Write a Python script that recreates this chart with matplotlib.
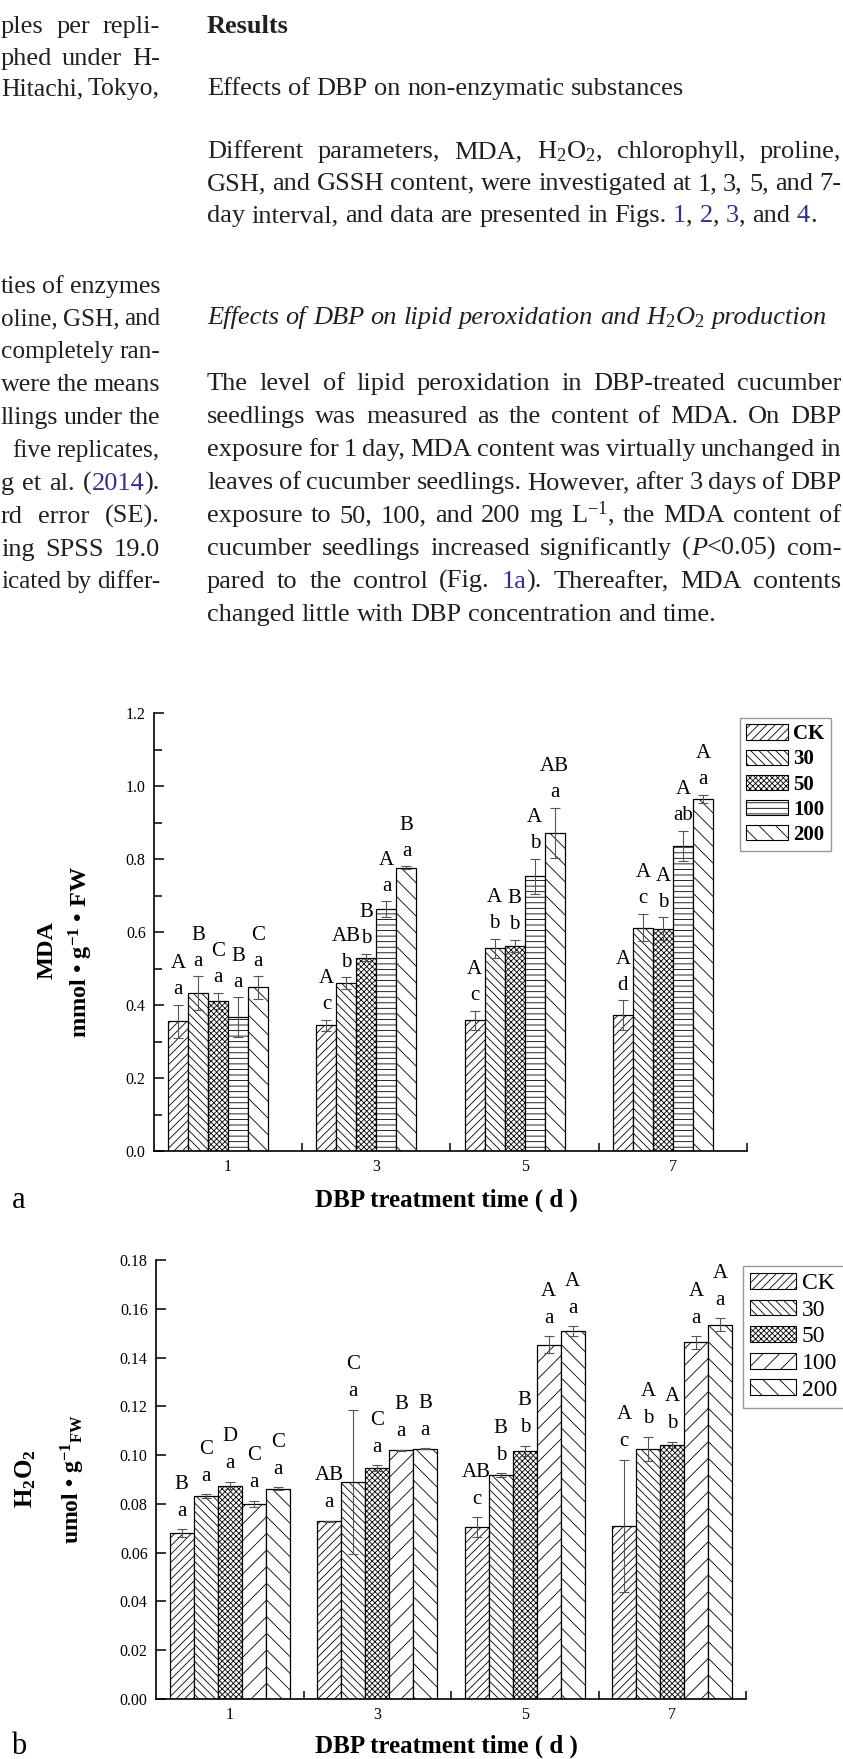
import matplotlib
matplotlib.use("Agg")
import matplotlib.pyplot as plt
from matplotlib.patches import Patch
from matplotlib.ticker import MultipleLocator, FixedLocator

plt.rcParams['font.family'] = ['Liberation Serif', 'DejaVu Serif']
plt.rcParams['mathtext.fontset'] = 'custom'
plt.rcParams['mathtext.rm'] = 'Liberation Serif'
plt.rcParams['mathtext.it'] = 'Liberation Serif:italic'
plt.rcParams['mathtext.bf'] = 'Liberation Serif:bold'
plt.rcParams['hatch.linewidth'] = 0.6

W, H = 843, 1759

# ---- data -------------------------------------------------------------
days = ['1', '3', '5', '7']
treatments = ['CK', '30', '50', '100', '200']

# rows = treatments, columns = days
mda_mean = [[0.355, 0.345, 0.358, 0.372],
            [0.432, 0.460, 0.556, 0.612],
            [0.411, 0.530, 0.562, 0.609],
            [0.366, 0.663, 0.753, 0.836],
            [0.448, 0.776, 0.872, 0.965]]
mda_err = [[0.045, 0.015, 0.026, 0.041],
           [0.047, 0.016, 0.026, 0.038],
           [0.023, 0.010, 0.017, 0.031],
           [0.055, 0.021, 0.048, 0.041],
           [0.031, 0.004, 0.068, 0.011]]
mda_upper = [['A', 'A', 'A', 'A'],
             ['B', 'AB', 'A', 'A'],
             ['C', 'B', 'B', 'A'],
             ['B', 'A', 'A', 'A'],
             ['C', 'B', 'AB', 'A']]
mda_lower = [['a', 'c', 'c', 'd'],
             ['a', 'b', 'b', 'c'],
             ['a', 'b', 'b', 'b'],
             ['a', 'a', 'b', 'ab'],
             ['a', 'a', 'a', 'a']]

h2o2_mean = [[0.0680, 0.0728, 0.0705, 0.0710],
             [0.0832, 0.0890, 0.0918, 0.1025],
             [0.0875, 0.0947, 0.1018, 0.1042],
             [0.0801, 0.1020, 0.1453, 0.1462],
             [0.0863, 0.1027, 0.1508, 0.1535]]
h2o2_err = [[0.0016, 0.0002, 0.0040, 0.0270],
            [0.0008, 0.0295, 0.0008, 0.0050],
            [0.0015, 0.0012, 0.0020, 0.0012],
            [0.0012, 0.0002, 0.0035, 0.0025],
            [0.0006, 0.0001, 0.0020, 0.0027]]
h2o2_upper = [['B', 'AB', 'AB', 'A'],
              ['C', 'C', 'B', 'A'],
              ['D', 'C', 'B', 'A'],
              ['C', 'B', 'A', 'A'],
              ['C', 'B', 'A', 'A']]
h2o2_lower = [['a', 'a', 'c', 'c'],
              ['a', 'a', 'b', 'b'],
              ['a', 'a', 'b', 'b'],
              ['a', 'a', 'a', 'a'],
              ['a', 'a', 'a', 'a']]

hatch_a = ['////', '\\\\\\\\', 'xxxxxx', '---', '\\\\']
hatch_b = ['////', '\\\\\\\\', 'xxxxxx', '//', '\\\\']

# page text: (baseline y, text); '#' toggles link colour, '~' toggles italic
right_col = [
    (33, 'Results', 'left', 'bold', 'normal'),
    (95, 'Effects of DBP on non-enzymatic substances', 'left', 'normal', 'normal'),
    (158, 'Different parameters, MDA, H$_2$O$_2$, chlorophyll, proline,', 'justify', 'normal', 'normal'),
    (190, 'GSH, and GSSH content, were investigated at 1, 3, 5, and 7-', 'justify', 'normal', 'normal'),
    (222, 'day interval, and data are presented in Figs. #1#, #2#, #3#, and #4#.', 'left', 'normal', 'normal'),
    (324, 'Effects of DBP on lipid peroxidation and H$_2$O$_2$ production', 'left', 'normal', 'italic'),
    (390, 'The level of lipid peroxidation in DBP-treated cucumber', 'justify', 'normal', 'normal'),
    (423, 'seedlings was measured as the content of MDA. On DBP', 'justify', 'normal', 'normal'),
    (456, 'exposure for 1 day, MDA content was virtually unchanged in', 'justify', 'normal', 'normal'),
    (489, 'leaves of cucumber seedlings. However, after 3 days of DBP', 'justify', 'normal', 'normal'),
    (522, 'exposure to 50, 100, and 200 mg L$^{-1}$, the MDA content of', 'justify', 'normal', 'normal'),
    (555, 'cucumber seedlings increased significantly (~P~<0.05) com-', 'justify', 'normal', 'normal'),
    (588, 'pared to the control (Fig. #1a#). Thereafter, MDA contents', 'justify', 'normal', 'normal'),
    (621, 'changed little with DBP concentration and time.', 'left', 'normal', 'normal'),
]
# visible ends of the left column lines (the page is cropped at the left)
left_col = [
    (33, 'ples per repli-', 1),
    (65, 'phed under H-', 1),
    (95, 'Hitachi, Tokyo,', 1),
    (293, 'ties of enzymes', 1),
    (325, 'oline, GSH, and', 1),
    (358, 'completely ran-', 1),
    (391, 'were the means', 1),
    (424, 'llings under the', 1),
    (457, 'five replicates,', 12),
    (490, 'g et al. (#2014#).', 1),
    (523, 'rd error (SE).', 1),
    (556, 'ing SPSS 19.0', 1),
    (588, 'icated by differ-', 1),
]

BODY = 19
INK = '#231f20'
LINK = '#2e3192'

fig = plt.figure(figsize=(W / 100, H / 100), dpi=100)
page = fig.add_axes([0, 0, 1, 1])
page.set_xlim(0, W)
page.set_ylim(H, 0)
page.axis('off')
renderer = fig.canvas.get_renderer()


def parse(word):
    segs, buf, blue, ital = [], '', False, False
    for ch in word:
        if ch in '#~':
            if buf:
                segs.append((buf, blue, ital))
                buf = ''
            if ch == '#':
                blue = not blue
            else:
                ital = not ital
        else:
            buf += ch
    if buf:
        segs.append((buf, blue, ital))
    return segs


def make_words(y, words, size, weight, style):
    placed = []
    for w in words:
        parts = []
        for txt, blue, ital in parse(w):
            t = page.text(0, y, txt, fontsize=size, fontweight=weight,
                          fontstyle='italic' if (ital or style == 'italic') else 'normal',
                          color=LINK if blue else INK, va='baseline', ha='left')
            parts.append((t, t.get_window_extent(renderer).width))
        placed.append(parts)
    return placed


def put_line(y, s, x0, x1, mode='left', weight='normal', style='normal', fit=False):
    words = s.split(' ')
    size = BODY
    placed = make_words(y, words, size, weight, style)
    widths = [sum(p[1] for p in parts) for parts in placed]
    space = size * 100 / 72 * 0.25
    if fit:
        need = sum(widths) + 0.8 * space * (len(words) - 1)
        if need > x1 - x0:
            for parts in placed:
                for t, _ in parts:
                    t.remove()
            size = size * (x1 - x0) / need
            placed = make_words(y, words, size, weight, style)
            widths = [sum(p[1] for p in parts) for parts in placed]
            space = size * 100 / 72 * 0.25
    if mode == 'justify':
        gap = max((x1 - x0 - sum(widths)) / (len(words) - 1), 2)
    else:
        gap = space
    x = x0
    for parts, ww in zip(placed, widths):
        xx = x
        for t, w in parts:
            t.set_x(xx)
            xx += w
        x += ww + gap


for y, s, mode, weight, style in right_col:
    put_line(y, s, 207, 841, mode, weight, style)
for y, s, x0 in left_col:
    put_line(y, s, x0, 160, 'justify', fit=True)


def draw_chart(rect, mean, err, upper, lower, hatches, ylim, major, minor,
               bw, shift, offs, leg_anchor, leg_kw):
    ax = fig.add_axes(rect)
    for i, name in enumerate(treatments):
        xs = [g + (i - 2) * bw + shift for g in range(len(days))]
        ax.bar(xs, mean[i], bw, color='white', edgecolor='black', hatch=hatches[i],
               linewidth=0.9, yerr=err[i], zorder=2,
               error_kw=dict(ecolor='#555555', elinewidth=0.8, capsize=3.5, capthick=0.8, zorder=3))
        for g in range(len(days)):
            top = mean[i][g] + err[i][g]
            ax.annotate(lower[i][g], (xs[g], top), xytext=(0, offs[0]), textcoords='offset pixels',
                        ha='center', va='center', fontsize=15)
            ax.annotate(upper[i][g], (xs[g], top), xytext=(0, offs[1]), textcoords='offset pixels',
                        ha='center', va='center', fontsize=15)
    ax.set_xlim(-0.5, len(days) - 0.5)
    ax.set_ylim(*ylim)
    ax.set_xticks(range(len(days)))
    ax.set_xticklabels(days)
    ax.xaxis.set_minor_locator(FixedLocator([0.5, 1.5, 2.5, 3.5]))
    ax.yaxis.set_major_locator(MultipleLocator(major))
    if minor:
        ax.yaxis.set_minor_locator(MultipleLocator(minor))
    ax.yaxis.set_major_formatter(lambda v, p: f'{v:.{2 if major < 0.1 else 1}f}')
    for sp in ['top', 'right']:
        ax.spines[sp].set_visible(False)
    for sp in ['left', 'bottom']:
        ax.spines[sp].set_linewidth(1.2)
    ax.tick_params(which='both', direction='in', width=1.1, labelsize=11.5, pad=6)
    ax.tick_params(which='major', length=7)
    ax.tick_params(which='minor', length=6)
    handles = [Patch(facecolor='white', edgecolor='black', hatch=h, linewidth=0.8) for h in hatches]
    leg = fig.legend(handles, treatments, loc='upper left', bbox_to_anchor=leg_anchor,
                     frameon=True, fancybox=False, borderaxespad=0, **leg_kw)
    leg.get_frame().set_edgecolor('#808080')
    leg.get_frame().set_linewidth(1.0)
    return ax


draw_chart([154 / W, 1 - 1151 / H, 593 / W, 438 / H], mda_mean, mda_err, mda_upper, mda_lower,
           hatch_a, (0, 1.2), 0.2, 0.1, 0.135, -0.067, (15, 41),
           (740 / W, 1 - 718 / H),
           dict(prop=dict(weight='bold', size=15), handlelength=2.0, handleheight=0.75,
                labelspacing=0.25, handletextpad=0.25, borderpad=0.3))

draw_chart([156 / W, 1 - 1699 / H, 590 / W, 439 / H], h2o2_mean, h2o2_err, h2o2_upper, h2o2_lower,
           hatch_b, (0, 0.18), 0.02, None, 0.163, 0.0, (18, 45),
           (743 / W, 1 - 1266 / H),
           dict(prop=dict(size=17), handlelength=1.95, handleheight=0.65,
                labelspacing=0.23, handletextpad=0.25, borderpad=0.3))

# axis titles and panel letters
page.text(446, 1200, 'DBP treatment time ( d )', ha='center', va='center', fontsize=18, fontweight='bold')
page.text(446, 1746, 'DBP treatment time ( d )', ha='center', va='center', fontsize=18, fontweight='bold')
page.text(19, 1200, 'a', ha='center', va='center', fontsize=22)
page.text(19, 1746, 'b', ha='center', va='center', fontsize=22)
page.text(47, 950, 'MDA', rotation=90, ha='center', va='center', fontsize=17.5, fontweight='bold')
page.text(81, 952, r'mmol • g$^{\mathbf{-1}}$ • FW', rotation=90, ha='center', va='center',
          fontsize=17.5, fontweight='bold')
page.text(26, 1479, r'$\mathbf{H_2O_2}$', rotation=90, ha='center', va='center', fontsize=18)
page.text(73, 1479, r'umol • g$^{\mathbf{-1}}$$_{\mathbf{FW}}$', rotation=90, ha='center', va='center',
          fontsize=17, fontweight='bold')

fig.savefig('out.png', dpi=100)
